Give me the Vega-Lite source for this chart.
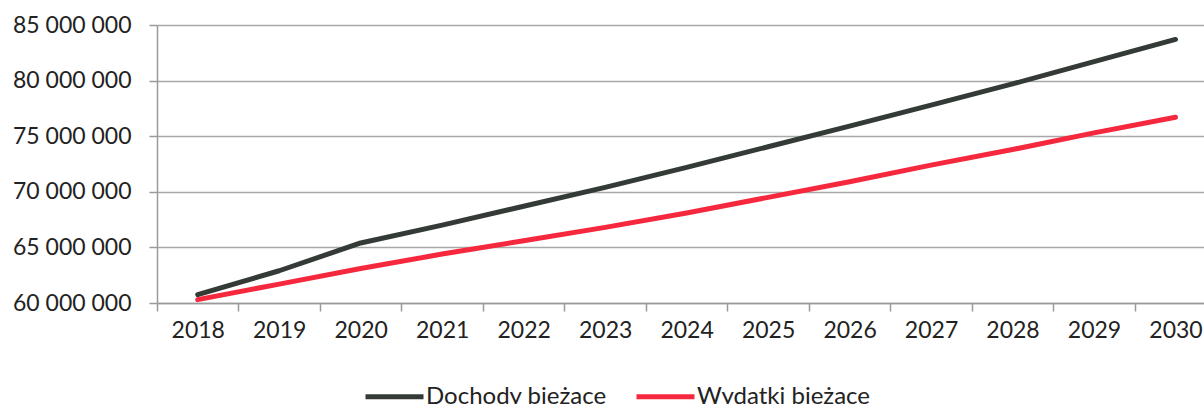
{
  "$schema": "https://vega.github.io/schema/vega-lite/v6.json",
  "width": 1047,
  "height": 278,
  "autosize": {"type": "none"},
  "padding": {"left": 157, "top": 25, "right": 0, "bottom": 101},
  "background": "white",
  "config": {"view": {"stroke": null}, "font": "Lato"},
  "data": {
    "values": [
      {"year": 2018, "series": "Dochody bieżące", "value": 60750000},
      {"year": 2019, "series": "Dochody bieżące", "value": 62900000},
      {"year": 2020, "series": "Dochody bieżące", "value": 65400000},
      {"year": 2021, "series": "Dochody bieżące", "value": 67000000},
      {"year": 2022, "series": "Dochody bieżące", "value": 68700000},
      {"year": 2023, "series": "Dochody bieżące", "value": 70400000},
      {"year": 2024, "series": "Dochody bieżące", "value": 72200000},
      {"year": 2025, "series": "Dochody bieżące", "value": 74050000},
      {"year": 2026, "series": "Dochody bieżące", "value": 75900000},
      {"year": 2027, "series": "Dochody bieżące", "value": 77800000},
      {"year": 2028, "series": "Dochody bieżące", "value": 79700000},
      {"year": 2029, "series": "Dochody bieżące", "value": 81700000},
      {"year": 2030, "series": "Dochody bieżące", "value": 83700000},
      {"year": 2018, "series": "Wydatki bieżące", "value": 60300000},
      {"year": 2019, "series": "Wydatki bieżące", "value": 61700000},
      {"year": 2020, "series": "Wydatki bieżące", "value": 63100000},
      {"year": 2021, "series": "Wydatki bieżące", "value": 64400000},
      {"year": 2022, "series": "Wydatki bieżące", "value": 65600000},
      {"year": 2023, "series": "Wydatki bieżące", "value": 66800000},
      {"year": 2024, "series": "Wydatki bieżące", "value": 68100000},
      {"year": 2025, "series": "Wydatki bieżące", "value": 69500000},
      {"year": 2026, "series": "Wydatki bieżące", "value": 70900000},
      {"year": 2027, "series": "Wydatki bieżące", "value": 72400000},
      {"year": 2028, "series": "Wydatki bieżące", "value": 73800000},
      {"year": 2029, "series": "Wydatki bieżące", "value": 75300000},
      {"year": 2030, "series": "Wydatki bieżące", "value": 76700000}
    ]
  },
  "mark": {"type": "line", "strokeWidth": 5, "strokeCap": "round", "strokeJoin": "round"},
  "encoding": {
    "x": {
      "field": "year",
      "type": "quantitative",
      "scale": {"domain": [2017.5, 2030.35], "nice": false, "zero": false},
      "axis": {
        "title": null,
        "values": [2017.5, 2018.5, 2019.5, 2020.5, 2021.5, 2022.5, 2023.5, 2024.5, 2025.5, 2026.5, 2027.5, 2028.5, 2029.5],
        "labelExpr": "format(datum.value + 0.5, 'd')",
        "labelOffset": 40.74,
        "grid": false,
        "domainColor": "#9a9a9a",
        "domainWidth": 1.5,
        "tickColor": "#9a9a9a",
        "tickWidth": 1.5,
        "tickSize": 8,
        "labelPadding": 8,
        "labelFontSize": 23,
        "labelColor": "#222222",
        "labelOverlap": false,
        "labelFlush": false,
        "labelBound": false,
        "labelFont": "Lato"
      }
    },
    "y": {
      "field": "value",
      "type": "quantitative",
      "scale": {"domain": [60000000, 85000000], "nice": false, "zero": false},
      "axis": {
        "title": null,
        "values": [60000000, 65000000, 70000000, 75000000, 80000000, 85000000],
        "labelExpr": "replace(format(datum.value, ','), regexp(',', 'g'), ' ')",
        "grid": true,
        "gridColor": "#a8a8a8",
        "gridWidth": 1.5,
        "domainColor": "#9a9a9a",
        "domainWidth": 1.5,
        "tickColor": "#9a9a9a",
        "tickWidth": 1.5,
        "tickSize": 8,
        "labelPadding": 18,
        "labelFontSize": 23,
        "labelColor": "#222222",
        "labelFont": "Lato"
      }
    },
    "color": {
      "field": "series",
      "type": "nominal",
      "scale": {"domain": ["Dochody bieżące", "Wydatki bieżące"], "range": ["#343b36", "#f5283e"]},
      "legend": {
        "title": null,
        "orient": "none",
        "legendX": 206,
        "legendY": 340,
        "direction": "horizontal",
        "symbolType": "stroke",
        "symbolSize": 3364,
        "symbolStrokeWidth": 5,
        "labelFontSize": 24,
        "labelFont": "Lato",
        "labelColor": "#222222",
        "labelLimit": 400,
        "labelOffset": 0,
        "columnPadding": 19
      }
    }
  }
}
